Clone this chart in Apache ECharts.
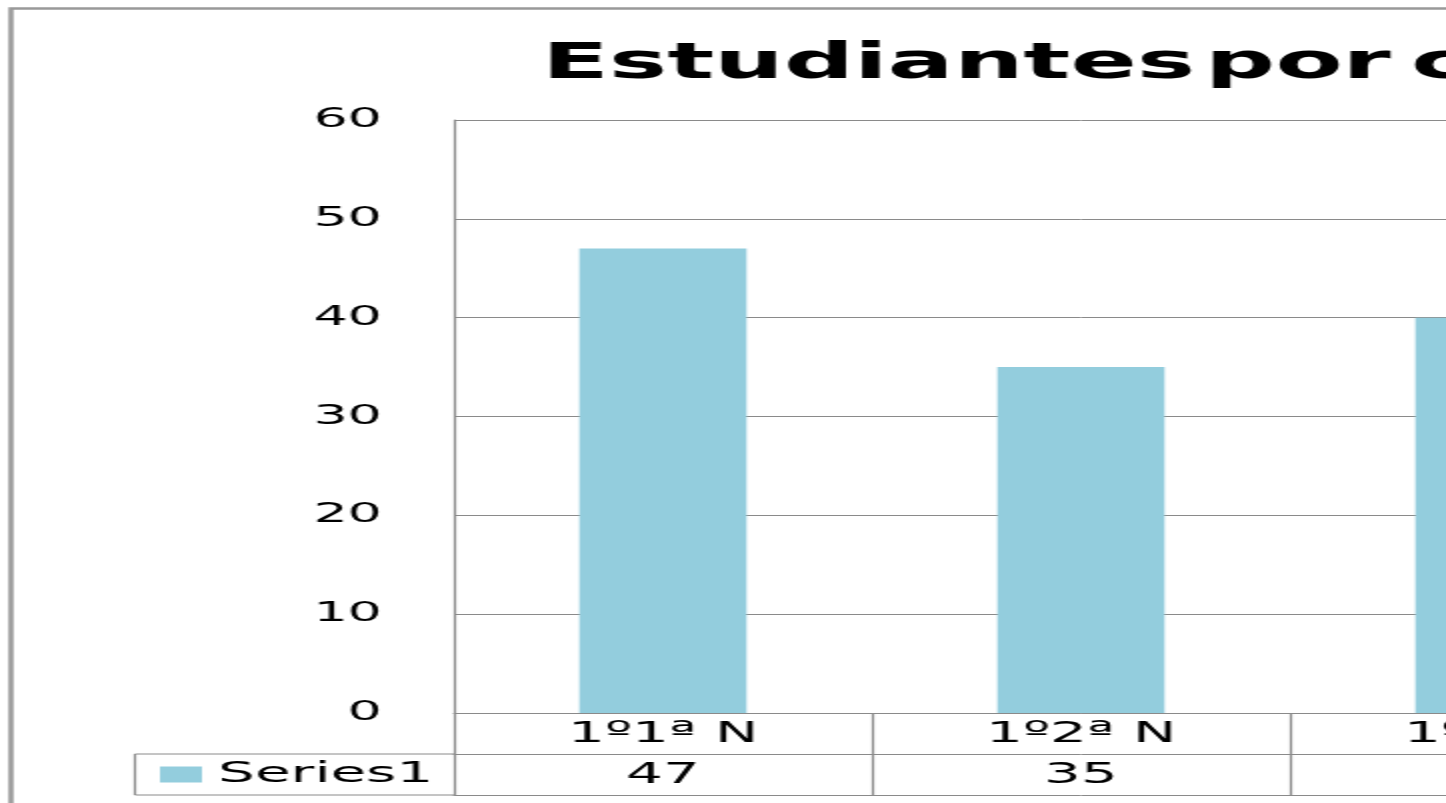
<!DOCTYPE html>
<html>
<head>
<meta charset="utf-8">
<script src="https://cdn.jsdelivr.net/npm/echarts@6/dist/echarts.min.js"></script>
<style>
  html, body { margin: 0; padding: 0; overflow: hidden; background: #fff; width: 1446px; height: 803px; }
  #chart { width: 900px; height: 803px; transform: scaleX(2); transform-origin: 0 0; }
</style>
</head>
<body>
<div id="chart"></div>
<script>
const titleWords = ['Estudiantes', 'por', 'curso'];
const categories = ['1º1ª N', '1º2ª N', '1º3ª N'];
const seriesName = 'Series1';
const values = [47, 35, 40];
const yMin = 0, yMax = 60, yStep = 10;

const gridLeft = 227, gridTop = 120, gridBottomY = 713, catWidth = 209;
const lineColor = '#8a8a8a';
const tableFont = { fontFamily: 'DejaVu Sans', fontSize: 29, lineHeight: 29, color: '#000' };

const titleRich = '{w|' + titleWords[0] + '}{s1| }{w|' + titleWords[1] + '}{s2| }{w|' + titleWords[2] + '}';
const titleBase = { fontFamily: 'DejaVu Sans', fontWeight: 'bold', fontSize: 49, lineHeight: 48, color: '#000' };

const chart = echarts.init(document.getElementById('chart'), null, { renderer: 'canvas' });
chart.setOption({
  animation: false,
  backgroundColor: '#fff',
  title: {
    text: titleRich,
    left: 266, top: 36,
    textStyle: Object.assign({}, titleBase, {
      rich: {
        w: titleBase,
        s1: Object.assign({}, titleBase, { width: 5 }),
        s2: Object.assign({}, titleBase, { width: 10 })
      }
    })
  },
  legend: {
    data: [seriesName],
    left: 80, top: 760, padding: 0,
    icon: 'rect', itemWidth: 21, itemHeight: 16,
    textStyle: Object.assign({}, tableFont, { padding: [0, 0, 0, 3] })
  },
  grid: { left: gridLeft, top: gridTop, width: catWidth * categories.length, height: gridBottomY - gridTop, containLabel: false },
  xAxis: [
    {
      type: 'category', data: categories, position: 'bottom',
      axisLine: { show: true, lineStyle: { color: lineColor, width: 1 } },
      axisTick: { show: true, interval: 0, length: 82, lineStyle: { color: lineColor, width: 1.2 } },
      axisLabel: Object.assign({ interval: 0, margin: 7 }, tableFont),
      splitLine: { show: false }
    },
    {
      type: 'category', data: values.map(String), position: 'bottom', offset: 41,
      axisLine: { show: true, lineStyle: { color: lineColor, width: 1 } },
      axisTick: { show: false },
      axisLabel: Object.assign({ interval: 0, margin: 7 }, tableFont)
    },
    {
      type: 'category', data: categories, position: 'bottom', offset: 82,
      axisLine: { show: true, lineStyle: { color: lineColor, width: 1 } },
      axisTick: { show: false },
      axisLabel: { show: false }
    }
  ],
  yAxis: {
    type: 'value', min: yMin, max: yMax, interval: yStep,
    axisLine: { show: true, lineStyle: { color: lineColor, width: 1.2 } },
    axisTick: { show: false },
    axisLabel: { margin: 36, fontFamily: 'DejaVu Sans', fontSize: 27, color: '#000' },
    splitLine: { show: true, lineStyle: { color: lineColor, width: 1 } }
  },
  series: [{
    name: seriesName, type: 'bar', data: values, xAxisIndex: 0,
    barWidth: '40%', itemStyle: { color: '#93cddd' }
  }],
  graphic: [
    { type: 'rect', silent: true, shape: { x: 5.5, y: 8.5, width: 1000, height: 900 },
      style: { fill: null, stroke: '#999', lineWidth: 2.5 } },
    { type: 'line', silent: true, shape: { x1: 67.5, y1: 754, x2: gridLeft, y2: 754 }, style: { stroke: lineColor, lineWidth: 1 } },
    { type: 'line', silent: true, shape: { x1: 67.5, y1: 795, x2: gridLeft, y2: 795 }, style: { stroke: lineColor, lineWidth: 1 } },
    { type: 'line', silent: true, shape: { x1: 67.5, y1: 754, x2: 67.5, y2: 795 }, style: { stroke: lineColor, lineWidth: 1.2 } }
  ]
});
</script>
</body>
</html>
